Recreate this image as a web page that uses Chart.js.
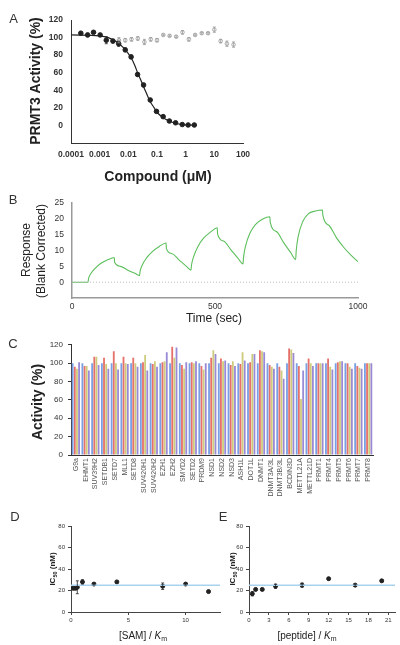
<!DOCTYPE html>
<html>
<head>
<meta charset="utf-8">
<script src="https://cdn.jsdelivr.net/npm/chart.js@4"></script>
<style>
  body { margin: 0; background: #fff; }
  #wrap { position: relative; width: 400px; height: 645px; overflow: hidden; }
  #wrap canvas { position: absolute; }
</style>
</head>
<body>
<div id="wrap">
  <canvas id="chartA" width="260" height="190" style="left:0;top:0"></canvas>
  <canvas id="chartB" width="400" height="140" style="left:0;top:190px"></canvas>
  <canvas id="chartC" width="400" height="180" style="left:0;top:335px"></canvas>
  <canvas id="chartD" width="230" height="140" style="left:0;top:505px"></canvas>
  <canvas id="chartE" width="200" height="140" style="left:200px;top:505px"></canvas>
</div>
<script>
//data - panel A (dose response)
const activeX = [0.00022, 0.00038, 0.00061, 0.00104, 0.0017, 0.0029, 0.0046, 0.0078, 0.0125, 0.021,
  0.034, 0.058, 0.096, 0.164, 0.27, 0.445, 0.76, 1.22, 2.0];
const activeY = [105, 103, 106, 103, 97, 96, 93, 86, 78, 58, 46, 29, 16, 10, 5, 3, 1, 0.5, 0.5];
const activeErr = [1.5, 2, 1.5, 1.5, 4, 2, 3, 2, 2, 2, 2, 1.5, 1.5, 1, 1, 1, 1, 1, 1];
const inactiveX = [0.0047, 0.0078, 0.0129, 0.0214, 0.0363, 0.0603, 0.1, 0.166, 0.275, 0.468,
  0.776, 1.29, 2.14, 3.63, 6.03, 10, 16.6, 27.5, 46.8];
const inactiveY = [97, 97, 98, 99, 95, 98, 97, 103, 102, 101, 106, 98, 103, 105, 105, 109, 96, 93, 92];
const inactiveErr = [3, 2, 2, 2, 3, 2, 2, 1, 1, 1, 2, 2, 1, 1, 1, 3, 2, 3, 3];
const fitX = [0.0001, 0.001, 0.002, 0.004, 0.007, 0.0125, 0.017, 0.021, 0.027, 0.034, 0.045, 0.058,
  0.08, 0.1, 0.16, 0.27, 0.45, 0.76, 1.2, 2.0];
const fitY = [103, 102, 100, 95, 88, 77, 68, 60, 52, 44, 35, 27, 20, 15, 9, 5, 2.5, 1, 0.5, 0.3];
const aTickVals = [0.0001, 0.001, 0.01, 0.1, 1, 10, 100];
const aTickLabels = ['0.0001', '0.001', '0.01', '0.1', '1', '10', '100'];
const aYTicks = [0, 20, 40, 60, 80, 100, 120];

//data - panel B (sensorgram)
const respT = [0, 56, 58, 65, 80, 100, 125, 148, 149, 170, 195, 220, 236,
  238, 245, 260, 280, 305, 329, 330, 350, 375, 400, 416,
  418, 425, 440, 460, 485, 508, 509, 530, 555, 580, 598,
  600, 607, 622, 642, 667, 692, 693, 715, 740, 765, 782,
  784, 791, 806, 826, 851, 876, 877, 898, 925, 952, 976, 1000];
const respV = [0, 0, 1.2, 2.6, 4.3, 5.9, 7.1, 7.8, 6.3, 5.0, 3.8, 2.8, 2.1,
  3.4, 5.3, 7.6, 9.6, 11.3, 12.4, 10.6, 9.0, 7.0, 5.0, 3.8,
  5.5, 8.0, 11.2, 13.9, 15.9, 17.2, 15.2, 13.0, 10.3, 7.6, 5.8,
  8.0, 11.5, 15.5, 18.3, 20.0, 20.7, 19.0, 16.0, 12.5, 9.3, 7.2,
  10, 14.5, 19.0, 21.6, 22.5, 22.8, 21.2, 18.0, 14.0, 10.8, 8.5, 6.5];
const bXTicks = [0, 500, 1000];
const bYTicks = [0, 5, 10, 15, 20, 25];

//data - panel C (selectivity)
const enzymes = ['G9a', 'EHMT1', 'SUV39H2', 'SETDB1', 'SETD7', 'MLL1', 'SETD8', 'SUV420H1', 'SUV420H2',
  'EZH1', 'EZH2', 'SMYD2', 'SETD2', 'PRDM9', 'NSD1', 'NSD2', 'NSD3', 'ASH1L', 'DOT1L', 'DNMT1',
  'DNMT3A/3L', 'DNMT3B/3L', 'BCDIN3D', 'METTL21A', 'METTL21D', 'PRMT1', 'PRMT4', 'PRMT5', 'PRMT6',
  'PRMT7', 'PRMT8'];
const act1 = [100, 100, 100, 100, 100, 100, 100, 100, 100, 100, 100, 100, 100, 100, 100, 100,
  100, 100, 100, 100, 100, 100, 100, 100, 100, 100, 100, 100, 100, 100, 100];
const act2 = [96, 97, 107, 106, 113, 107, 106, 101, 99, 101, 118, 98, 101, 97, 106, 105,
  98, 99, 101, 114, 98, 96, 116, 97, 105, 100, 105, 101, 100, 97, 100];
const act3 = [94, 97, 107, 99, 100, 100, 100, 109, 102, 102, 106, 94, 100, 93, 114, 102,
  102, 112, 110, 113, 96, 92, 115, 61, 100, 100, 96, 102, 96, 95, 100];
const act4 = [101, 92, 98, 94, 93, 99, 96, 92, 96, 112, 117, 101, 102, 100, 110, 103,
  97, 103, 110, 112, 94, 83, 111, 92, 97, 100, 93, 102, 94, 94, 100];
const cYTicks = [0, 20, 40, 60, 80, 100, 120];

//data - panels D and E
const samX = [0.2, 0.4, 0.55, 1, 2, 4, 8, 10, 12];
const samIC50 = [22, 22, 23, 28, 26, 28, 24, 26, 19];
const samErr = [1, 1, 6, 2, 1, 1, 3, 1, 1];
const pepX = [0.5, 1, 2, 4, 8, 12, 16, 20];
const pepIC50 = [17, 21, 21, 24, 25, 31, 25, 29];
const pepErr = [2, 1, 1, 2, 2, 1, 1, 1];
const meanIC50 = 25;
const dXTicks = [0, 5, 10];
const eXTicks = [0, 3, 6, 9, 12, 15, 18, 21];
const deYTicks = [0, 20, 40, 60, 80];

//setup
const FF = "'Liberation Sans', Arial, sans-serif";
Chart.defaults.font.family = FF;
Chart.defaults.animation = false;
Chart.defaults.responsive = false;
Chart.defaults.devicePixelRatio = 1;
Chart.defaults.plugins.legend.display = false;
Chart.defaults.plugins.tooltip.enabled = false;

const pts = (xs, ys) => xs.map((x, i) => ({ x: x, y: ys[i] }));
const fixW = (w) => (s) => { s.width = w; };
const fixH = (h) => (s) => { s.height = h; };
const setTicks = (vals) => (s) => { s.ticks = vals.map((v) => ({ value: v })); };
const plain = (v) => String(v);

const errorBars = {
  id: 'errorBars',
  afterDatasetsDraw(chart) {
    const ctx = chart.ctx;
    chart.data.datasets.forEach((ds, i) => {
      if (!ds.err) return;
      const meta = chart.getDatasetMeta(i);
      const ys = chart.scales[meta.yAxisID];
      ctx.save();
      ctx.strokeStyle = ds.borderColor;
      ctx.lineWidth = 0.8;
      meta.data.forEach((pt, j) => {
        const e = ds.err[j];
        if (!e) return;
        const v = ds.data[j].y;
        const y1 = ys.getPixelForValue(v - e);
        const y2 = ys.getPixelForValue(v + e);
        ctx.beginPath();
        ctx.moveTo(pt.x, y1); ctx.lineTo(pt.x, y2);
        ctx.moveTo(pt.x - 1.5, y1); ctx.lineTo(pt.x + 1.5, y1);
        ctx.moveTo(pt.x - 1.5, y2); ctx.lineTo(pt.x + 1.5, y2);
        ctx.stroke();
      });
      ctx.restore();
    });
  }
};

function drawRich(ctx, it) {
  const parts = it.parts || [{ t: it.t, f: it.f }];
  ctx.save();
  ctx.translate(it.x, it.y);
  if (it.rot) ctx.rotate(-Math.PI / 2);
  ctx.fillStyle = it.c || '#222';
  ctx.textBaseline = 'middle';
  ctx.textAlign = 'left';
  let w = 0;
  parts.forEach((p) => { ctx.font = p.f; w += ctx.measureText(p.t).width; });
  let x = -w / 2;
  parts.forEach((p) => {
    ctx.font = p.f;
    ctx.fillText(p.t, x, p.dy || 0);
    x += ctx.measureText(p.t).width;
  });
  ctx.restore();
}
const textLayer = (items) => ({
  id: 'textLayer',
  afterDraw(chart) { items.forEach((it) => drawRich(chart.ctx, it)); }
});

const letterFont = '13px ' + FF;
const boldTitle = 'bold 14px ' + FF;

//chart A
new Chart(document.getElementById('chartA'), {
  type: 'scatter',
  data: {
    datasets: [
      { type: 'line', data: pts(fitX, fitY), borderColor: '#222', borderWidth: 1.2, pointRadius: 0,
        cubicInterpolationMode: 'monotone' },
      { data: pts(activeX, activeY), backgroundColor: '#222', borderColor: '#222', pointRadius: 2.3,
        err: activeErr },
      { data: pts(inactiveX, inactiveY), backgroundColor: '#fff', borderColor: '#999', borderWidth: 0.8,
        pointRadius: 1.8, err: inactiveErr }
    ]
  },
  options: {
    layout: { padding: { top: 20, right: 17, left: 0, bottom: 0 } },
    scales: {
      x: {
        type: 'logarithmic', min: 0.0001, max: 100,
        afterBuildTicks: setTicks(aTickVals), afterFit: fixH(47),
        grid: { display: false, drawTicks: false },
        border: { color: '#333', width: 1 },
        ticks: { autoSkip: false, maxRotation: 0, padding: 7, color: '#333',
          font: { size: 8.5, weight: 'bold' }, callback: (v, i) => aTickLabels[i] }
      },
      y: {
        min: -20, max: 120,
        afterBuildTicks: setTicks(aYTicks), afterFit: fixW(71),
        grid: { display: false, drawTicks: false },
        border: { color: '#333', width: 1 },
        ticks: { padding: 8, color: '#333', font: { size: 8.5, weight: 'bold' }, callback: plain }
      }
    }
  },
  plugins: [errorBars, textLayer([
    { t: 'A', f: letterFont, x: 13.5, y: 19, c: '#333' },
    { t: 'PRMT3 Activity (%)', f: boldTitle, x: 36.5, y: 81, rot: true },
    { t: 'Compound (\u03bcM)', f: boldTitle, x: 158, y: 177 }
  ])]
});

//chart B
new Chart(document.getElementById('chartB'), {
  type: 'scatter',
  data: {
    datasets: [
      { type: 'line', data: pts([0, 1000], [0, 0]), borderColor: '#bbb', borderWidth: 1,
        borderDash: [1, 2], pointRadius: 0 },
      { type: 'line', data: pts(respT, respV), borderColor: '#5cbf5c', borderWidth: 1.1, pointRadius: 0,
        cubicInterpolationMode: 'monotone' }
    ]
  },
  options: {
    layout: { padding: { top: 12, right: 42, left: 0, bottom: 0 } },
    scales: {
      x: {
        min: 0, max: 1000,
        afterBuildTicks: setTicks(bXTicks), afterFit: fixH(32),
        grid: { display: false, drawTicks: false },
        border: { color: '#999', width: 1.5 },
        ticks: { padding: 4, color: '#333', font: { size: 8.5 }, callback: plain }
      },
      y: {
        min: -5, max: 25,
        afterBuildTicks: setTicks(bYTicks), afterFit: fixW(72),
        grid: { display: false, drawTicks: false },
        border: { color: '#999', width: 1.5 },
        ticks: { padding: 8, color: '#333', font: { size: 8.5 }, callback: plain }
      }
    }
  },
  plugins: [textLayer([
    { t: 'B', f: letterFont, x: 13, y: 10, c: '#333' },
    { t: 'Response', f: '12px ' + FF, x: 26.5, y: 60, rot: true },
    { t: '(Blank Corrected)', f: '12px ' + FF, x: 41.5, y: 61, rot: true },
    { t: 'Time (sec)', f: '12px ' + FF, x: 214, y: 129 }
  ])]
});

//chart C
const barSet = (label, data, color) => ({ label: label, data: data, backgroundColor: color,
  barPercentage: 0.85, categoryPercentage: 0.88 });
new Chart(document.getElementById('chartC'), {
  type: 'bar',
  data: {
    labels: enzymes,
    datasets: [
      barSet('1', act1, '#7a9fe2'),
      barSet('2', act2, '#e6706a'),
      barSet('3', act3, '#cfcb7c'),
      barSet('4', act4, '#9a8ad6')
    ]
  },
  options: {
    layout: { padding: { top: 8, right: 27, left: 0, bottom: 0 } },
    scales: {
      x: {
        afterFit: fixH(60),
        grid: { display: false, drawTicks: false },
        border: { color: '#333', width: 1 },
        ticks: { autoSkip: false, minRotation: 90, maxRotation: 90, padding: 3, color: '#555',
          font: { size: 7 } }
      },
      y: {
        min: 0, max: 120,
        afterBuildTicks: setTicks(cYTicks), afterFit: fixW(71),
        grid: { display: true, drawOnChartArea: false, drawTicks: true, tickLength: 3, color: '#333' },
        border: { color: '#333', width: 1 },
        ticks: { padding: 5, color: '#333', font: { size: 8 }, callback: plain }
      }
    }
  },
  plugins: [textLayer([
    { t: 'C', f: letterFont, x: 13, y: 9, c: '#333' },
    { t: 'Activity (%)', f: boldTitle, x: 38, y: 67, rot: true }
  ])]
});

//charts D and E
function ic50Chart(id, xs, ys, errs, xMax, xTicks, yAxisW, rightPad, texts) {
  return new Chart(document.getElementById(id), {
    type: 'scatter',
    data: {
      datasets: [
        { type: 'line', data: pts([0, xMax], [meanIC50, meanIC50]), borderColor: '#a9d2ef',
          borderWidth: 1.5, pointRadius: 0 },
        { data: pts(xs, ys), backgroundColor: '#222', borderColor: '#222', pointRadius: 2, err: errs }
      ]
    },
    options: {
      layout: { padding: { top: 21, right: rightPad, left: 0, bottom: 0 } },
      scales: {
        x: {
          min: 0, max: xMax,
          afterBuildTicks: setTicks(xTicks), afterFit: fixH(33),
          grid: { display: true, drawOnChartArea: false, drawTicks: true, tickLength: 3, color: '#444' },
          border: { color: '#444', width: 1 },
          ticks: { padding: 2, color: '#333', font: { size: 6 }, callback: plain }
        },
        y: {
          min: 0, max: 80,
          afterBuildTicks: setTicks(deYTicks), afterFit: fixW(yAxisW),
          grid: { display: true, drawOnChartArea: false, drawTicks: true, tickLength: 3, color: '#444' },
          border: { color: '#444', width: 1 },
          ticks: { padding: 3, color: '#333', font: { size: 6 }, callback: plain }
        }
      }
    },
    plugins: [errorBars, textLayer(texts)]
  });
}

const ic50Title = (x) => ({ x: x, y: 64, rot: true, parts: [
  { t: 'IC', f: 'bold 8px ' + FF },
  { t: '50', f: 'bold 5.5px ' + FF, dy: 2.5 },
  { t: ' (nM)', f: 'bold 8px ' + FF }
] });
const kmTitle = (pre, x) => ({ x: x, y: 131, parts: [
  { t: pre + ' / ', f: '10px ' + FF },
  { t: 'K', f: 'italic 10px ' + FF },
  { t: 'm', f: '7px ' + FF, dy: 3 }
] });

ic50Chart('chartD', samX, samIC50, samErr, 13, dXTicks, 71, 10, [
  { t: 'D', f: letterFont, x: 15, y: 12.5, c: '#333' },
  ic50Title(53),
  kmTitle('[SAM]', 143)
]);
ic50Chart('chartE', pepX, pepIC50, pepErr, 22, eXTicks, 49, 5, [
  { t: 'E', f: letterFont, x: 23, y: 12.5, c: '#333' },
  ic50Title(33),
  kmTitle('[peptide]', 107)
]);
</script>
</body>
</html>
